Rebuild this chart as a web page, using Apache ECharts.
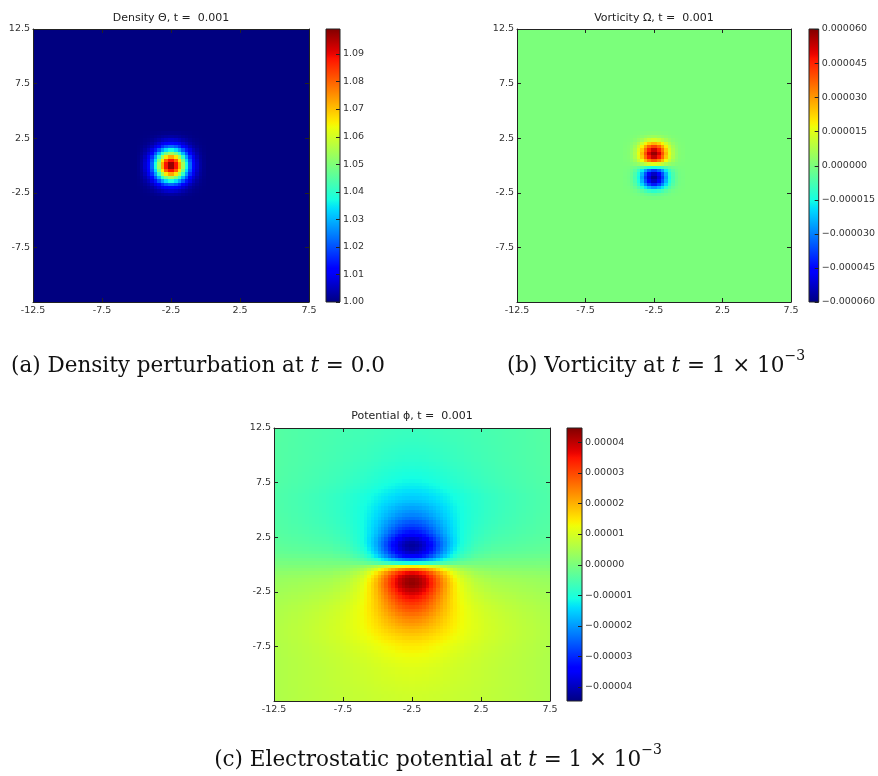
<!DOCTYPE html>
<html>
<head>
<meta charset="utf-8">
<script src="https://cdn.jsdelivr.net/npm/echarts@6/dist/echarts.min.js"></script>
<style>
  html, body { margin: 0; padding: 0; background: #ffffff; }
  #chart { width: 878px; height: 776px; }
</style>
</head>
<body>
<div id="chart"></div>
<script>
// ---- spatial axes -------------------------------------------------------
const xRange = [-12.5, 7.5];
const yRange = [-12.5, 12.5];
const xTicks = [-12.5, -7.5, -2.5, 2.5, 7.5];
const yTicks = [12.5, 7.5, 2.5, -2.5, -7.5];
const nCols = 80;
const nRows = 80;
const centre = [-2.5, 0];

// ---- colour bars --------------------------------------------------------
const densityRange = [1.0, 1.099];
const densityTicks = [1.00, 1.01, 1.02, 1.03, 1.04, 1.05, 1.06, 1.07, 1.08, 1.09];
const vorticityRange = [-0.00006, 0.00006];
const vorticityTicks = [-0.00006, -0.000045, -0.00003, -0.000015, 0, 0.000015, 0.00003, 0.000045, 0.00006];
const potentialRange = [-0.0000447, 0.0000447];
const potentialTicks = [-0.00004, -0.00003, -0.00002, -0.00001, 0, 0.00001, 0.00002, 0.00003, 0.00004];

// ---- density bump: background, excess at the centre, fall-off per cell ----
const densityBase = 1.0;
const densityExcess = 0.099;
const densityProfile = [0.99, 0.90, 0.74, 0.55, 0.38, 0.23, 0.13, 0.07, 0.03, 0.01];

// ---- vorticity dipole: column fall-off, rows above / below the centre ----
const vorticityScale = 0.00006;
const vorticityCols = [0.98, 0.86, 0.66, 0.44, 0.26, 0.13, 0.06, 0.02, 0.01];
const vorticityAbove = [0.25, 0.65, 0.90, 0.98, 0.88, 0.70, 0.45, 0.22, 0.08, 0.02];
const vorticityBelow = [-0.25, -0.65, -0.90, -0.98, -0.90, -0.72, -0.45, -0.20, -0.07, -0.02];

// ---- potential: core, halo and far-field parts (fractions of the scale) ----
const potentialScale = 0.0000447;
const potCoreCols = [1.00, 0.98, 0.94, 0.89, 0.82, 0.74, 0.66, 0.57, 0.49, 0.41, 0.33, 0.27, 0.21, 0.16, 0.12, 0.09, 0.07, 0.05, 0.03, 0.02, 0.02, 0.01, 0.01];
const potHaloCols = [1.00, 0.99, 0.98, 0.95, 0.93, 0.89, 0.86, 0.82, 0.78, 0.74, 0.70, 0.66, 0.62, 0.58, 0.55, 0.51, 0.48, 0.45, 0.43, 0.40,
                     0.38, 0.35, 0.33, 0.32, 0.30, 0.28, 0.27, 0.25, 0.24, 0.23, 0.21, 0.20, 0.19, 0.18, 0.18, 0.17, 0.16, 0.15, 0.15, 0.14];
const potFarCols = [1.00, 1.00, 1.00, 1.00, 1.00, 0.99, 0.99, 0.99, 0.99, 0.98, 0.98, 0.97, 0.97, 0.96, 0.96, 0.95, 0.95, 0.94, 0.93, 0.93,
                    0.92, 0.91, 0.90, 0.89, 0.88, 0.87, 0.86, 0.85, 0.84, 0.83, 0.82, 0.81, 0.80, 0.78, 0.77, 0.76, 0.74, 0.73, 0.71, 0.70];
const potCoreAbove = [-0.23, -0.49, -0.68, -0.745, -0.765, -0.76, -0.715, -0.632, -0.53, -0.438, -0.366, -0.304, -0.252, -0.195, -0.148,
                      -0.116, -0.084, -0.057, -0.03, -0.014];
const potHaloAbove = [-0.01, -0.03, -0.05, -0.07, -0.09, -0.11, -0.13, -0.15, -0.17, -0.19, -0.21, -0.22, -0.23, -0.235, -0.24, -0.24,
                      -0.24, -0.235, -0.23, -0.225, -0.218, -0.197, -0.176, -0.16, -0.144, -0.133, -0.122, -0.111, -0.10, -0.089,
                      -0.078, -0.072, -0.066, -0.06, -0.054, -0.048, -0.042, -0.039, -0.034, -0.03];
const potFarAbove = [-0.01, -0.03, -0.05, -0.065, -0.075, -0.08, -0.085, -0.088, -0.09, -0.092, -0.094, -0.096, -0.098, -0.10, -0.102,
                     -0.104, -0.106, -0.108, -0.11, -0.111, -0.112, -0.113, -0.114, -0.115, -0.116, -0.117, -0.118, -0.119, -0.12,
                     -0.121, -0.122, -0.123, -0.124, -0.125, -0.126, -0.127, -0.128, -0.128, -0.129, -0.13];
const potCoreBelow = [0.28, 0.54, 0.71, 0.77, 0.77, 0.75, 0.71, 0.64, 0.56, 0.49, 0.42, 0.36, 0.30, 0.25, 0.20, 0.155, 0.12,
                      0.09, 0.06, 0.035, 0.013];
const potHaloBelow = [0.01, 0.03, 0.06, 0.085, 0.115, 0.14, 0.155, 0.17, 0.195, 0.21, 0.226, 0.242, 0.258, 0.264, 0.27, 0.272, 0.274, 0.271,
                      0.268, 0.26, 0.25, 0.236, 0.209, 0.187, 0.17, 0.153, 0.136, 0.119, 0.107, 0.095, 0.083, 0.076, 0.069, 0.062,
                      0.056, 0.05, 0.044, 0.038, 0.032, 0.03];
const potFarBelow = [0.01, 0.03, 0.05, 0.065, 0.075, 0.08, 0.085, 0.09, 0.095, 0.10, 0.104, 0.108, 0.112, 0.116, 0.12, 0.123, 0.126,
                     0.129, 0.132, 0.135, 0.137, 0.139, 0.141, 0.143, 0.145, 0.147, 0.149, 0.151, 0.153, 0.155, 0.157, 0.159, 0.161,
                     0.163, 0.164, 0.165, 0.166, 0.167, 0.168, 0.17];

// ---- grid tables ------------------------------------------------------------
const dx = (xRange[1] - xRange[0]) / nCols;
const dy = (yRange[1] - yRange[0]) / nRows;
const centreCol = Math.round((centre[0] - xRange[0]) / dx);
const centreRow = Math.round((yRange[1] - centre[1]) / dy);
const at = (arr, k) => (k < arr.length ? arr[k] : 0);

function buildTable(valueAt) {
  const rows = [];
  for (let j = 0; j < nRows; j++) {
    const above = j < centreRow;
    const rk = above ? centreRow - 1 - j : j - centreRow;
    for (let i = 0; i < nCols; i++) {
      const ck = i < centreCol ? centreCol - 1 - i : i - centreCol;
      rows.push([xRange[0] + i * dx, yRange[1] - (j + 1) * dy, valueAt(ck, rk, above)]);
    }
  }
  return rows;
}

const densityTable = buildTable((ck, rk) =>
  densityBase + densityExcess * at(densityProfile, ck) * at(densityProfile, rk));

const vorticityTable = buildTable((ck, rk, above) =>
  vorticityScale * at(vorticityCols, ck) * at(above ? vorticityAbove : vorticityBelow, rk));

const potentialTable = buildTable((ck, rk, above) => potentialScale * (
  at(potCoreCols, ck) * at(above ? potCoreAbove : potCoreBelow, rk) +
  at(potHaloCols, ck) * at(above ? potHaloAbove : potHaloBelow, rk) +
  at(potFarCols, ck) * at(above ? potFarAbove : potFarBelow, rk)));

// ---- jet colour map ---------------------------------------------------------
const jetSeg = {
  r: [[0, 0], [0.35, 0], [0.66, 1], [0.89, 1], [1, 0.5]],
  g: [[0, 0], [0.125, 0], [0.375, 1], [0.64, 1], [0.91, 0], [1, 0]],
  b: [[0, 0.5], [0.11, 1], [0.34, 1], [0.65, 0], [1, 0]]
};
function channel(seg, t) {
  for (let k = 1; k < seg.length; k++) {
    if (t <= seg[k][0]) {
      const [t0, v0] = seg[k - 1], [t1, v1] = seg[k];
      return v0 + (v1 - v0) * (t - t0) / (t1 - t0);
    }
  }
  return seg[seg.length - 1][1];
}
function jet(t) {
  const c = ['r', 'g', 'b'].map(k => Math.round(255 * channel(jetSeg[k], t)));
  return 'rgb(' + c.join(',') + ')';
}
const jetStops = [];
for (let k = 0; k <= 64; k++) jetStops.push(jet(k / 64));

// ---- layout ------------------------------------------------------------------
const panels = [
  { main: { left: 33, top: 29, width: 276, height: 273 }, bar: { left: 326, top: 29, width: 14, height: 273 },
    table: densityTable, range: densityRange, ticks: densityTicks, fmt: v => v.toFixed(2),
    title: 'Density \u0398, t =  0.001', titlePos: [171, 18] },
  { main: { left: 517, top: 29, width: 274, height: 273 }, bar: { left: 809, top: 29, width: 13, height: 273 },
    table: vorticityTable, range: vorticityRange, ticks: vorticityTicks,
    fmt: v => (v < 0 ? '\u2212' : '') + Math.abs(v).toFixed(6),
    title: 'Vorticity \u03A9, t =  0.001', titlePos: [654, 18] },
  { main: { left: 274, top: 428, width: 276, height: 273 }, bar: { left: 567, top: 428, width: 15, height: 273 },
    table: potentialTable, range: potentialRange, ticks: potentialTicks,
    fmt: v => (v < 0 ? '\u2212' : '') + Math.abs(v).toFixed(5),
    title: 'Potential \u03D5, t =  0.001', titlePos: [412, 416] }
];

const ink = '#222';
const labelStyle = { fontFamily: 'DejaVu Sans', fontSize: 9.5, color: '#333' };

const grid = [], xAxis = [], yAxis = [], series = [], visualMap = [], graphic = [];

// one sampled cell, snapped to whole pixels so neighbours meet without seams
function renderCell(params, api) {
  const x0 = api.value(0), y0 = api.value(1);
  const a = api.coord([x0, y0 + dy]);
  const b = api.coord([x0 + dx, y0]);
  const left = Math.round(a[0]), top = Math.round(a[1]);
  return {
    type: 'rect',
    shape: { x: left, y: top, width: Math.round(b[0]) - left, height: Math.round(b[1]) - top },
    style: { fill: api.visual('color') },
    silent: true
  };
}

// colour bar: gradient strip, outline and inward ticks on its right edge
function colourBar(ticks) {
  return (params, api) => {
    const a = api.coord([0, api.value(3)]);
    const b = api.coord([1, api.value(1)]);
    const children = [{
      type: 'rect',
      shape: { x: a[0], y: a[1], width: b[0] - a[0], height: b[1] - a[1] },
      style: {
        fill: new echarts.graphic.LinearGradient(0, 1, 0, 0,
          jetStops.map((c, k) => ({ offset: k / (jetStops.length - 1), color: c }))),
        stroke: ink, lineWidth: 1
      }
    }];
    ticks.forEach(t => {
      const y = Math.round(api.coord([1, t])[1]) + 0.5;
      children.push({ type: 'line', shape: { x1: b[0] - 4, y1: y, x2: b[0], y2: y },
        style: { stroke: ink, lineWidth: 1 } });
    });
    return { type: 'group', children };
  };
}

panels.forEach((p) => {
  const g = grid.length;
  grid.push(p.main, p.bar);

  const tickCommon = { show: true, inside: true, length: 4, lineStyle: { color: ink, width: 1 } };
  const lineCommon = { show: true, onZero: false, lineStyle: { color: ink, width: 1 } };

  // main axes: labelled bottom/left, tick-only top/right
  xAxis.push({ type: 'value', gridIndex: g, position: 'bottom', min: xRange[0], max: xRange[1], z: 10,
    axisLine: lineCommon, axisTick: Object.assign({ customValues: xTicks }, tickCommon),
    axisLabel: Object.assign({ customValues: xTicks, margin: 4, formatter: v => String(v) }, labelStyle),
    splitLine: { show: false } });
  xAxis.push({ type: 'value', gridIndex: g, position: 'top', min: xRange[0], max: xRange[1], z: 10,
    axisLine: lineCommon, axisTick: Object.assign({ customValues: xTicks }, tickCommon),
    axisLabel: { show: false }, splitLine: { show: false } });
  yAxis.push({ type: 'value', gridIndex: g, position: 'left', min: yRange[0], max: yRange[1], z: 10,
    axisLine: lineCommon, axisTick: Object.assign({ customValues: yTicks }, tickCommon),
    axisLabel: Object.assign({ customValues: yTicks, margin: 3, formatter: v => String(v) }, labelStyle),
    splitLine: { show: false } });
  yAxis.push({ type: 'value', gridIndex: g, position: 'right', min: yRange[0], max: yRange[1], z: 10,
    axisLine: lineCommon, axisTick: Object.assign({ customValues: yTicks }, tickCommon),
    axisLabel: { show: false }, splitLine: { show: false } });

  // colour bar axes (labels only; the strip draws its own ticks)
  xAxis.push({ type: 'value', gridIndex: g + 1, min: 0, max: 1, show: false });
  yAxis.push({ type: 'value', gridIndex: g + 1, position: 'right', min: p.range[0], max: p.range[1], z: 10,
    axisLine: { show: false }, axisTick: { show: false },
    axisLabel: Object.assign({ customValues: p.ticks, margin: 3, formatter: p.fmt }, labelStyle),
    splitLine: { show: false } });

  const xi = xAxis.length - 3, yi = yAxis.length - 3;
  visualMap.push({ type: 'continuous', show: false, seriesIndex: series.length, dimension: 2,
    min: p.range[0], max: p.range[1], inRange: { color: jetStops } });
  series.push({ type: 'custom', xAxisIndex: xi, yAxisIndex: yi, clip: true, silent: true,
    progressive: 0, dimensions: ['x', 'y', 'value'], encode: { x: 0, y: 1 },
    renderItem: renderCell, data: p.table, z: 1 });

  series.push({ type: 'custom', xAxisIndex: xi + 2, yAxisIndex: yi + 2, silent: true, z: 1,
    progressive: 0, data: [[0, p.range[0], 1, p.range[1]]],
    renderItem: colourBar(p.ticks) });

  graphic.push({ type: 'text', x: p.titlePos[0], y: p.titlePos[1], z: 10,
    style: { text: p.title, fontFamily: 'DejaVu Sans', fontSize: 11, fill: '#222',
      align: 'center', verticalAlign: 'middle' } });
});

// ---- captions ----------------------------------------------------------------
const capSize = 21.5;
const capFont = { fontFamily: 'DejaVu Serif', fontSize: capSize, fill: '#111' };
const capRich = {
  r: { fontFamily: 'DejaVu Serif', fontSize: capSize, color: '#111', lineHeight: 28, verticalAlign: 'bottom' },
  i: { fontFamily: 'DejaVu Serif', fontSize: capSize, fontStyle: 'italic', color: '#111', lineHeight: 28, verticalAlign: 'bottom' },
  s: { fontFamily: 'DejaVu Serif', fontSize: 14, color: '#111', lineHeight: 28, verticalAlign: 'top' }
};
const captions = [
  { text: '{r|(a) Density perturbation at }{i|t}{r| = 0.0}', pos: [198, 363] },
  { text: '{r|(b) Vorticity at }{i|t}{r| = 1 \u00D7 10}{s|\u22123}', pos: [656, 363] },
  { text: '{r|(c) Electrostatic potential at }{i|t}{r| = 1 \u00D7 10}{s|\u22123}', pos: [438, 757] }
];
captions.forEach(c => graphic.push({ type: 'text', x: c.pos[0], y: c.pos[1], z: 10,
  style: Object.assign({ text: c.text, rich: capRich, align: 'center', verticalAlign: 'middle' }, capFont) }));

const chart = echarts.init(document.getElementById('chart'), null, { renderer: 'canvas' });
chart.setOption({
  animation: false,
  backgroundColor: '#ffffff',
  grid, xAxis, yAxis, visualMap, series, graphic
});
</script>
</body>
</html>
